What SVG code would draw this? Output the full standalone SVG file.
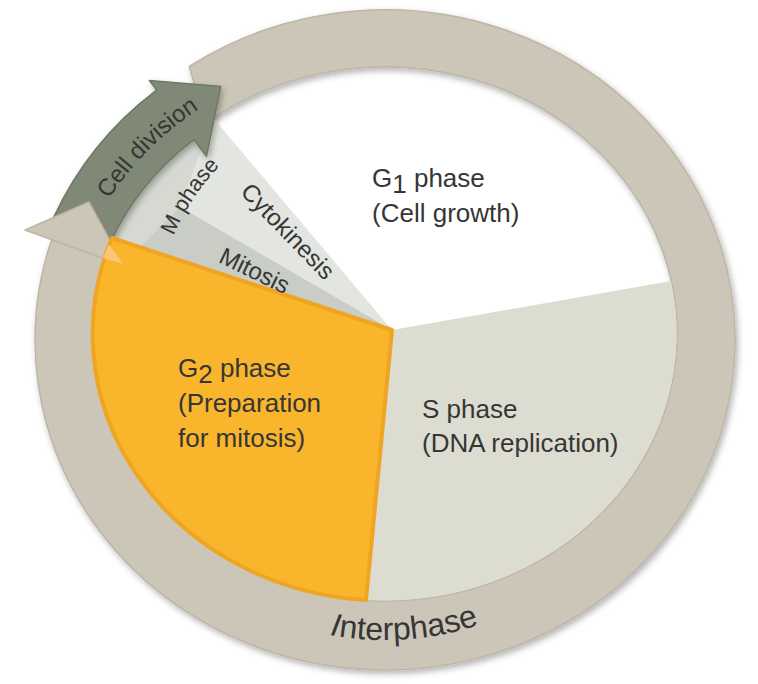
<svg xmlns="http://www.w3.org/2000/svg" width="758" height="684" viewBox="0 0 758 684">
  <defs>
    <style>
      .lbl { font-family: "Liberation Sans", Arial, sans-serif; fill: #363636; }
      .ring { fill: #ccc6b8; stroke: #bdb5a6; stroke-width: 1.5; stroke-linejoin: round; }
      .green { fill: #7f8975; stroke: #6e7864; stroke-width: 1.5; stroke-linejoin: round; }
    </style>
    <filter id="soft" x="-10%" y="-10%" width="120%" height="120%">
      <feDropShadow dx="2" dy="3" stdDeviation="3" flood-color="#000" flood-opacity="0.3"/>
    </filter>
    <path id="arcCell" d="M 80 258.1 A 298 298 0 0 1 258.1 80"/>
    <path id="arcM" d="M 157.6 288.7 A 238 238 0 0 1 262.4 130.4"/>
    <path id="arcInter" d="M 235 599.8 A 300 300 0 0 0 535 599.8"/>
  </defs>

  <rect width="758" height="684" fill="#ffffff"/>

  <!-- Interphase ring body -->
  <g id="interphase-ring" filter="url(#soft)">
    <path class="ring" d="M 189.3 66.4 A 350 330 0 1 1 51.5 240 L 105.1 258 A 292 267 0 1 0 205.2 123.6 Z"/>
  </g>

  <!-- Pie sectors -->
  <g id="s-phase">
    <path d="M 392 330 L 671 281 A 292 267 0 0 1 366 600 Z" fill="#dcdcd0"/>
  </g>
  <g id="m-phase">
    <path d="M 392 330 L 204 107 L 150 120 L 100 200 L 108 240 Z" fill="#e3e5e0"/>
    <path d="M 112 238 L 140 247 L 180 207 L 213 117 L 204 107 L 150 120 L 100 200 L 108 240 Z" fill="#d6d9d2"/>
  </g>
  <g id="mitosis">
    <path d="M 392 330 L 140 247 L 180 207 Z" fill="#c9cdc5"/>
  </g>

  <!-- Cell division arrow -->
  <g id="cell-division" filter="url(#soft)">
    <path class="green" d="M 109.9 243.4 L 53.7 217.2 A 338 338 0 0 1 156.6 90.1 L 149.4 80.5 L 220.6 86.5 L 206.5 156.4 L 193.9 139.6 A 276 276 0 0 0 109.9 243.4 Z"/>
  </g>

  <!-- Interphase arrowhead -->
  <g id="interphase-head">
    <path class="ring" d="M 25 230 L 89 202 L 124 266 Z"/>
  </g>

  <g id="g2-phase">
    <path d="M 392 330 L 112 238 A 292 267 0 0 0 366 600 Z" fill="#f9b52c" stroke="#f0a522" stroke-width="4" stroke-linejoin="round"/>
    <path d="M 109 244 L 123 264 L 103 258 Z" fill="#fbc57a"/>
  </g>

  <!-- Labels -->
  <g id="labels">
    <text class="lbl" x="372" y="187" font-size="26">G<tspan dy="6">1</tspan><tspan dy="-6"> phase</tspan></text>
    <text class="lbl" x="372" y="222" font-size="26">(Cell growth)</text>

    <text class="lbl" x="422" y="418" font-size="26">S phase</text>
    <text class="lbl" x="422" y="452" font-size="26">(DNA replication)</text>

    <text class="lbl" x="178" y="377" font-size="26">G<tspan dy="6">2</tspan><tspan dy="-6"> phase</tspan></text>
    <text class="lbl" x="178" y="412" font-size="26">(Preparation</text>
    <text class="lbl" x="178" y="447" font-size="26">for mitosis)</text>

    <text class="lbl" font-size="24" transform="translate(282 237) rotate(46)" text-anchor="middle">Cytokinesis</text>
    <text class="lbl" font-size="24" transform="translate(251 278) rotate(26)" text-anchor="middle">Mitosis</text>

    <text class="lbl" font-size="22"><textPath href="#arcM" startOffset="50%" text-anchor="middle">M phase</textPath></text>
    <text class="lbl" font-size="24"><textPath href="#arcCell" startOffset="50%" text-anchor="middle">Cell division</textPath></text>
    <text class="lbl" font-size="32"><textPath href="#arcInter" startOffset="56.4%" text-anchor="middle"><tspan font-style="italic">I</tspan>nterphase</textPath></text>
  </g>
</svg>
